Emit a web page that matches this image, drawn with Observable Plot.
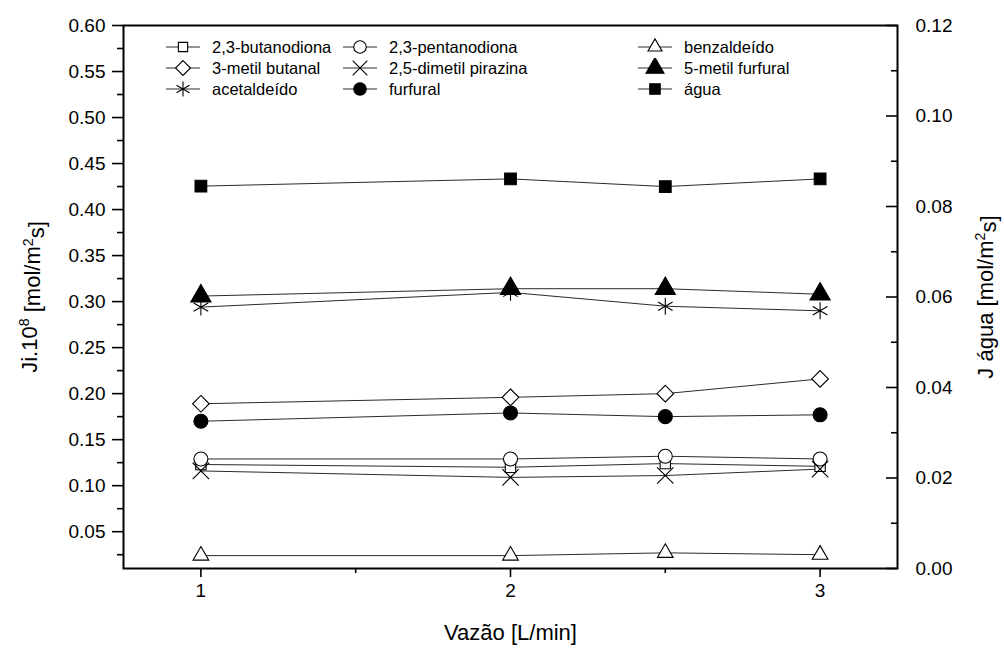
<!DOCTYPE html>
<html>
<head>
<meta charset="utf-8">
<script src="https://cdn.jsdelivr.net/npm/d3@7"></script>
<script src="https://cdn.jsdelivr.net/npm/@observablehq/plot@0.6"></script>
<style>
  body { margin: 0; background: #fff; }
  #wrap { position: relative; width: 1004px; height: 648px; font-family: "Liberation Sans", Arial, sans-serif; }
  .leg { position: absolute; display: flex; align-items: center; font-size: 16.5px; color: #000; white-space: nowrap; }
  .leg svg { display: block; margin-right: 12px; }
</style>
</head>
<body>
<div id="wrap"></div>
<script>
// Flow rate (L/min)
const vazao = [1, 2, 2.5, 3];

// Component fluxes, Ji·10^8 (mol/m²s) — left axis
const butanodiona  = [0.123, 0.120, 0.124, 0.121];
const pentanodiona = [0.129, 0.129, 0.132, 0.129];
const benzaldeido  = [0.024, 0.024, 0.027, 0.025];
const metilButanal = [0.189, 0.196, 0.200, 0.216];
const pirazina     = [0.116, 0.109, 0.111, 0.118];
const metilFurfural = [0.306, 0.314, 0.314, 0.308];
const acetaldeido  = [0.294, 0.310, 0.295, 0.290];
const furfural     = [0.170, 0.179, 0.175, 0.177];

// Water flux, J água (mol/m²s) — right axis
const agua = [0.0845, 0.0861, 0.0844, 0.0861];

// Axis ranges and ticks
const leftDomain = [0.01, 0.60];
const rightDomain = [0, 0.12];
const leftMajor = d3.range(1, 13).map(i => i * 0.05);
const leftMinor = d3.range(0, 12).map(i => 0.025 + i * 0.05);
const rightMajor = d3.range(0, 7).map(i => i * 0.02);
const rightMinor = d3.range(0, 6).map(i => 0.01 + i * 0.02);
const xMajor = [1, 2, 3];
const xMinor = [1.5, 2.5];

// Map right-axis values into left-axis units (shared vertical scale)
const toLeft = v => leftDomain[0] + (v - rightDomain[0]) / (rightDomain[1] - rightDomain[0]) * (leftDomain[1] - leftDomain[0]);
const fromLeft = u => rightDomain[0] + (u - leftDomain[0]) / (leftDomain[1] - leftDomain[0]) * (rightDomain[1] - rightDomain[0]);

const series = [
  {name: "2,3-butanodiona",      values: butanodiona,   symbol: "square2",  fill: "white", r: 6.6},
  {name: "2,3-pentanodiona",     values: pentanodiona,  symbol: "circle",   fill: "white", r: 7},
  {name: "benzaldeído",          values: benzaldeido,   symbol: "triangle2", fill: "white", r: 7.5},
  {name: "3-metil butanal",      values: metilButanal,  symbol: "diamond2", fill: "white", r: 7.5},
  {name: "2,5-dimetil pirazina", values: pirazina,      symbol: "times",    fill: "none",  r: 7.5},
  {name: "5-metil furfural",     values: metilFurfural, symbol: "triangle", fill: "black", r: 7.5},
  {name: "acetaldeído",          values: acetaldeido,   symbol: "asterisk", fill: "none",  r: 8},
  {name: "furfural",             values: furfural,      symbol: "circle",   fill: "black", r: 7},
  {name: "água",                 values: agua.map(toLeft), symbol: "square", fill: "black", r: 6.6}
];

const rows = series.flatMap(s => s.values.map((v, i) => ({name: s.name, x: vazao[i], y: v})));

const font = "Liberation Sans, Arial, sans-serif";
const fmt = d3.format(".2f");

const chart = Plot.plot({
  width: 1004,
  height: 648,
  marginTop: 25,
  marginLeft: 123,
  marginRight: 107,
  marginBottom: 80,
  style: {fontFamily: font, background: "white", color: "black"},
  x: {domain: [0.75, 3.25]},
  y: {domain: leftDomain},
  marks: [
    // connecting lines
    Plot.line(rows, {x: "x", y: "y", z: "name", stroke: "#2a2a2a", strokeWidth: 1}),
    // markers
    ...series.map(s => Plot.dot(s.values.map((v, i) => ({x: vazao[i], y: v})), {
      x: "x", y: "y", symbol: () => s.symbol, r: s.r,
      fill: s.fill, stroke: "black", strokeWidth: 1.1
    })),
    // left axis
    Plot.axisY({anchor: "left", ticks: leftMajor, tickSize: 11, tickPadding: 7, tickFormat: fmt, fontSize: 19, label: null, strokeWidth: 1.6}),
    Plot.axisY({anchor: "left", ticks: leftMinor, tickSize: 6, tickFormat: () => "", label: null, strokeWidth: 1.6}),
    // right axis (water), ticks pointing inward
    Plot.axisY({anchor: "left", frameAnchor: "right", ticks: rightMajor.map(toLeft), tickSize: 11, tickFormat: () => "", label: null, strokeWidth: 1.6}),
    Plot.axisY({anchor: "left", frameAnchor: "right", ticks: rightMinor.map(toLeft), tickSize: 6, tickFormat: () => "", label: null, strokeWidth: 1.6}),
    Plot.axisY({anchor: "right", ticks: rightMajor.map(toLeft), tickSize: 0, tickPadding: 18, tickFormat: d => fmt(fromLeft(d)), fontSize: 19, label: null}),
    // bottom axis
    Plot.axisX({anchor: "bottom", ticks: xMajor, tickSize: 9, tickPadding: 6, tickFormat: d3.format("d"), fontSize: 19, label: null, strokeWidth: 1.6}),
    Plot.axisX({anchor: "bottom", ticks: xMinor, tickSize: 5, tickFormat: () => "", label: null, strokeWidth: 1.6}),
    Plot.frame({stroke: "black", strokeWidth: 2}),
    // axis titles
    Plot.text(["Vazão [L/min]"], {frameAnchor: "bottom", dy: 64, fontSize: 22, textAnchor: "middle", lineAnchor: "middle", className: "xtitle"}),
    Plot.text(["Ji.10^8 [mol/m^2s]"], {frameAnchor: "left", dx: -94, rotate: -90, fontSize: 22, textAnchor: "middle", lineAnchor: "middle", className: "ytitle-left"}),
    Plot.text(["J água [mol/m^2s]"], {frameAnchor: "right", dx: 88, rotate: -90, fontSize: 22, textAnchor: "middle", lineAnchor: "middle", className: "ytitle-right"})
  ]
});

// Superscripts in the vertical titles
function superscript(sel, parts) {
  d3.select(chart).selectAll(sel + " text").each(function() {
    const t = d3.select(this).text("");
    let up = false;
    parts.forEach(([str, sup]) => {
      t.append("tspan")
        .attr("dy", sup ? "-0.5em" : (up ? "0.5em" : null))
        .attr("font-size", sup ? "65%" : null)
        .text(str);
      up = sup;
    });
  });
}
superscript(".ytitle-left", [["Ji.10", false], ["8", true], [" [mol/m", false], ["2", true], ["s]", false]]);
superscript(".ytitle-right", [["J água [mol/m", false], ["2", true], ["s]", false]]);

const wrap = document.getElementById("wrap");
wrap.appendChild(chart);

// Legend: three columns by three rows inside the plot area
const symbolMap = {
  square: d3.symbolSquare, square2: d3.symbolSquare2, circle: d3.symbolCircle,
  triangle: d3.symbolTriangle, triangle2: d3.symbolTriangle2, diamond2: d3.symbolDiamond2,
  times: d3.symbolTimes, asterisk: d3.symbolAsterisk
};
const legendCols = [166, 343, 638];
const legendRows = [47, 68, 89];
series.forEach((s, i) => {
  const col = i % 3, row = Math.floor(i / 3);
  const item = document.createElement("div");
  item.className = "leg";
  item.style.left = legendCols[col] + "px";
  item.style.top = (legendRows[row] - 10) + "px";
  item.style.height = "20px";
  const svg = d3.create("svg").attr("width", 34).attr("height", 20);
  svg.append("line").attr("x1", 0).attr("x2", 34).attr("y1", 10).attr("y2", 10).attr("stroke", "#2a2a2a").attr("stroke-width", 1);
  svg.append("path")
    .attr("transform", "translate(17,10)")
    .attr("d", d3.symbol(symbolMap[s.symbol], s.r * s.r * Math.PI * 0.8)())
    .attr("fill", s.fill).attr("stroke", "black").attr("stroke-width", 1.1);
  item.appendChild(svg.node());
  const label = document.createElement("span");
  label.textContent = s.name;
  item.appendChild(label);
  wrap.appendChild(item);
});
</script>
</body>
</html>
